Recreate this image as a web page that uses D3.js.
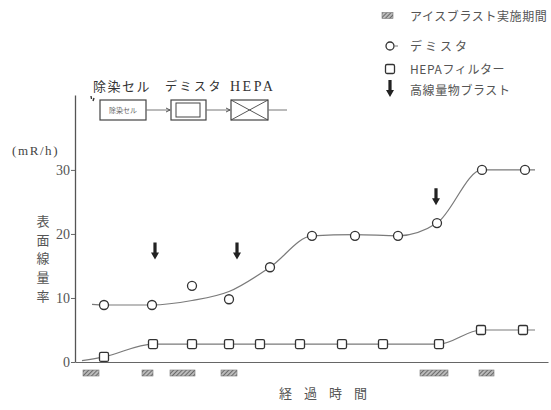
<!DOCTYPE html>
<html>
<head>
<meta charset="utf-8">
<script src="https://cdn.jsdelivr.net/npm/d3@7"></script>
<style>
  html, body { margin: 0; padding: 0; background: #fff; }
  svg { display: block; }
  .jp { font-family: "Noto Sans CJK JP", sans-serif; }
  .num { font-family: "Liberation Serif", "DejaVu Serif", serif; }
</style>
</head>
<body>
<svg id="chart" width="551" height="410"></svg>
<script>
// Elapsed time (arbitrary units) and surface dose rate (mR/h)
const demisterTime  = [2.9, 7.7, 11.7, 15.4, 19.5, 23.7, 28.0, 32.3, 36.2, 40.7, 45.0];
const demisterValue = [8.9, 8.9, 11.9, 9.8, 14.8, 19.7, 19.7, 19.7, 21.7, 30.0, 30.0];
const hepaTime  = [2.9, 7.8, 11.7, 15.4, 18.5, 22.5, 26.7, 30.8, 36.4, 40.6, 44.8];
const hepaValue = [0.8, 2.8, 2.8, 2.8, 2.8, 2.8, 2.8, 2.8, 2.8, 5.0, 5.0];

// Hand-fitted trend lines
const demisterFitTime  = [1.7, 2.9, 7.7, 11.7, 15.4, 19.5, 23.7, 28.0, 32.3, 36.2, 40.7, 45.0, 46.0];
const demisterFitValue = [9.0, 8.9, 8.9, 9.6, 11.0, 14.8, 19.7, 19.9, 19.7, 21.7, 30.0, 30.0, 30.0];
const hepaFitTime  = [0.7, 2.9, 7.8, 36.4, 40.6, 44.8, 46.0];
const hepaFitValue = [0.2, 0.8, 2.8, 2.8, 5.0, 5.0, 5.0];

// Ice-blast periods (start / end)
const iceBlastStart = [0.8, 6.7, 9.5, 14.6, 34.5, 40.4];
const iceBlastEnd   = [2.4, 7.8, 12.0, 16.2, 37.3, 41.9];

// High-dose item blasts: time and level of the arrow tip
const blastTime  = [8.0, 16.2, 36.1];
const blastLevel = [16.0, 16.0, 24.5];

const yTicks = [0, 10, 20, 30];

const legendLabels = ["アイスブラスト実施期間", "デミスタ", "HEPAフィルター", "高線量物ブラスト"];

const svg = d3.select("#chart");
const x = d3.scaleLinear().domain([0, 47.3]).range([75, 548]);
const y = d3.scaleLinear().domain([0, 41.7]).range([362, 95]);

const lineCol = "#7a7a7a", markCol = "#333", textCol = "#444";

// hatch pattern for the ice-blast bars
const defs = svg.append("defs");
const pat = defs.append("pattern").attr("id", "hatch").attr("patternUnits", "userSpaceOnUse")
  .attr("width", 3).attr("height", 3).attr("patternTransform", "rotate(45)");
pat.append("rect").attr("width", 3).attr("height", 3).attr("fill", "#bbb");
pat.append("line").attr("x1", 0).attr("y1", 0).attr("x2", 0).attr("y2", 3)
  .attr("stroke", "#333").attr("stroke-width", 1.2);

// axes
const yAxis = d3.axisLeft(y).tickValues(yTicks).tickSize(4).tickSizeOuter(0).tickPadding(1);
const gy = svg.append("g").attr("transform", `translate(${x(0)},0)`).call(yAxis);
gy.select(".domain").attr("stroke", "#555").attr("stroke-width", 1.3);
gy.selectAll(".tick line").attr("stroke", "#666");
gy.selectAll(".tick text").attr("class", "num").attr("font-size", 14).attr("fill", "#555");

const gx = svg.append("g").attr("transform", `translate(0,${y(0)})`)
  .call(d3.axisBottom(x).tickValues([]).tickSizeOuter(0));
gx.select(".domain").attr("stroke", "#666").attr("stroke-width", 1.2);

// axis titles
svg.append("text").attr("class", "num").attr("x", 12).attr("y", 155)
  .attr("font-size", 13).attr("letter-spacing", 1.6).attr("fill", textCol).text("(mR/h)");
const yTitle = "表面線量率";
svg.append("g").selectAll("text").data([...yTitle]).join("text")
  .attr("class", "jp").attr("x", 43).attr("y", (d, i) => 226 + i * 18.7)
  .attr("text-anchor", "middle").attr("font-size", 13).attr("fill", "#555").text(d => d);
svg.append("text").attr("class", "jp").attr("x", 279).attr("y", 398)
  .attr("font-size", 13).attr("letter-spacing", 12).attr("fill", "#555").text("経過時間");

// ice-blast bars under the axis
svg.append("g").selectAll("rect").data(iceBlastStart).join("rect")
  .attr("x", d => x(d)).attr("y", 370)
  .attr("width", (d, i) => x(iceBlastEnd[i]) - x(d)).attr("height", 6)
  .attr("fill", "url(#hatch)").attr("stroke", "#777").attr("stroke-width", 0.6);

// trend lines
const line = d3.line().x(d => x(d[0])).y(d => y(d[1])).curve(d3.curveMonotoneX);
svg.append("path").datum(demisterFitTime.map((t, i) => [t, demisterFitValue[i]]))
  .attr("d", line).attr("fill", "none").attr("stroke", lineCol).attr("stroke-width", 1.2);
svg.append("path").datum(hepaFitTime.map((t, i) => [t, hepaFitValue[i]]))
  .attr("d", line).attr("fill", "none").attr("stroke", lineCol).attr("stroke-width", 1.2);

// markers
svg.append("g").selectAll("circle").data(demisterTime).join("circle")
  .attr("cx", d => x(d)).attr("cy", (d, i) => y(demisterValue[i])).attr("r", 4.5)
  .attr("fill", "#fff").attr("stroke", markCol).attr("stroke-width", 1.3);
svg.append("g").selectAll("rect").data(hepaTime).join("rect")
  .attr("x", d => x(d) - 4.5).attr("y", (d, i) => y(hepaValue[i]) - 4.5)
  .attr("width", 9).attr("height", 9).attr("rx", 1.5)
  .attr("fill", "#fff").attr("stroke", markCol).attr("stroke-width", 1.3);

// blast arrows
function arrow(g, cx, tipY) {
  g.append("path")
    .attr("d", `M${cx - 1.6},${tipY - 17} L${cx + 1.6},${tipY - 17} L${cx + 1.6},${tipY - 7}
      L${cx + 4},${tipY - 7} L${cx},${tipY} L${cx - 4},${tipY - 7} L${cx - 1.6},${tipY - 7} Z`)
    .attr("fill", "#222");
}
const ga = svg.append("g");
blastTime.forEach((t, i) => arrow(ga, x(t), y(blastLevel[i])));

// legend
const lg = svg.append("g");
const rowY = [16, 46, 69, 90];
lg.append("rect").attr("x", 382).attr("y", rowY[0] - 3.5).attr("width", 11).attr("height", 6)
  .attr("fill", "url(#hatch)").attr("stroke", "#777").attr("stroke-width", 0.6);
lg.append("circle").attr("cx", 390).attr("cy", rowY[1]).attr("r", 4)
  .attr("fill", "#fff").attr("stroke", markCol).attr("stroke-width", 1.3);
lg.append("line").attr("x1", 394).attr("x2", 398).attr("y1", rowY[1]).attr("y2", rowY[1])
  .attr("stroke", lineCol);
lg.append("rect").attr("x", 385.5).attr("y", rowY[2] - 4.5).attr("width", 9).attr("height", 9)
  .attr("rx", 1.5).attr("fill", "#fff").attr("stroke", markCol).attr("stroke-width", 1.3);
arrow(lg, 390, rowY[3] + 7);
lg.selectAll("text.lab").data(legendLabels).join("text").attr("class", "jp lab")
  .attr("x", 410).attr("y", (d, i) => rowY[i] + 4.5)
  .attr("font-size", 12).attr("letter-spacing", (d, i) => i === 1 ? 3 : 0.6)
  .attr("fill", "#555").text(d => d);

// process flow: decon cell -> demister -> HEPA
const fg = svg.append("g").attr("stroke", "#444").attr("fill", "none");
fg.append("rect").attr("x", 100).attr("y", 100).attr("width", 46).attr("height", 20).attr("stroke-width", 1.2);
fg.append("rect").attr("x", 171).attr("y", 100).attr("width", 35).attr("height", 20).attr("stroke-width", 1.2);
fg.append("rect").attr("x", 176).attr("y", 103).attr("width", 24).attr("height", 14).attr("stroke-width", 1);
fg.append("rect").attr("x", 231).attr("y", 100).attr("width", 37).attr("height", 20).attr("stroke-width", 1.2);
fg.append("path").attr("d", "M231,100 L268,120 M268,100 L231,120").attr("stroke-width", 0.9);
fg.append("path").attr("d", "M146,110 L171,110 M206,110 L231,110 M268,110 L287,110")
  .attr("stroke", "#777").attr("stroke-width", 1);
fg.append("path").attr("d", "M166,108 L170,110 L166,112 M226,108 L230,110 L226,112")
  .attr("stroke", "#555").attr("stroke-width", 1);
// small inlet mark at the cell's top-left corner
fg.append("path").attr("d", "M91,96 L91.5,99 M94,98 L93,101").attr("stroke", "#333").attr("stroke-width", 1.4);
svg.append("text").attr("class", "jp").attr("x", 123).attr("y", 113).attr("text-anchor", "middle")
  .attr("font-size", 7).attr("fill", "#666").text("除染セル");
svg.append("text").attr("class", "jp").attr("x", 93).attr("y", 91)
  .attr("font-size", 13).attr("letter-spacing", 1.5).attr("fill", "#333").text("除染セル");
svg.append("text").attr("class", "jp").attr("x", 165).attr("y", 91)
  .attr("font-size", 12).attr("letter-spacing", 2.5).attr("fill", "#333").text("デミスタ");
svg.append("text").attr("class", "num").attr("x", 230).attr("y", 91)
  .attr("font-size", 14).attr("letter-spacing", 2.5).attr("fill", "#333").text("HEPA");
</script>
</body>
</html>
